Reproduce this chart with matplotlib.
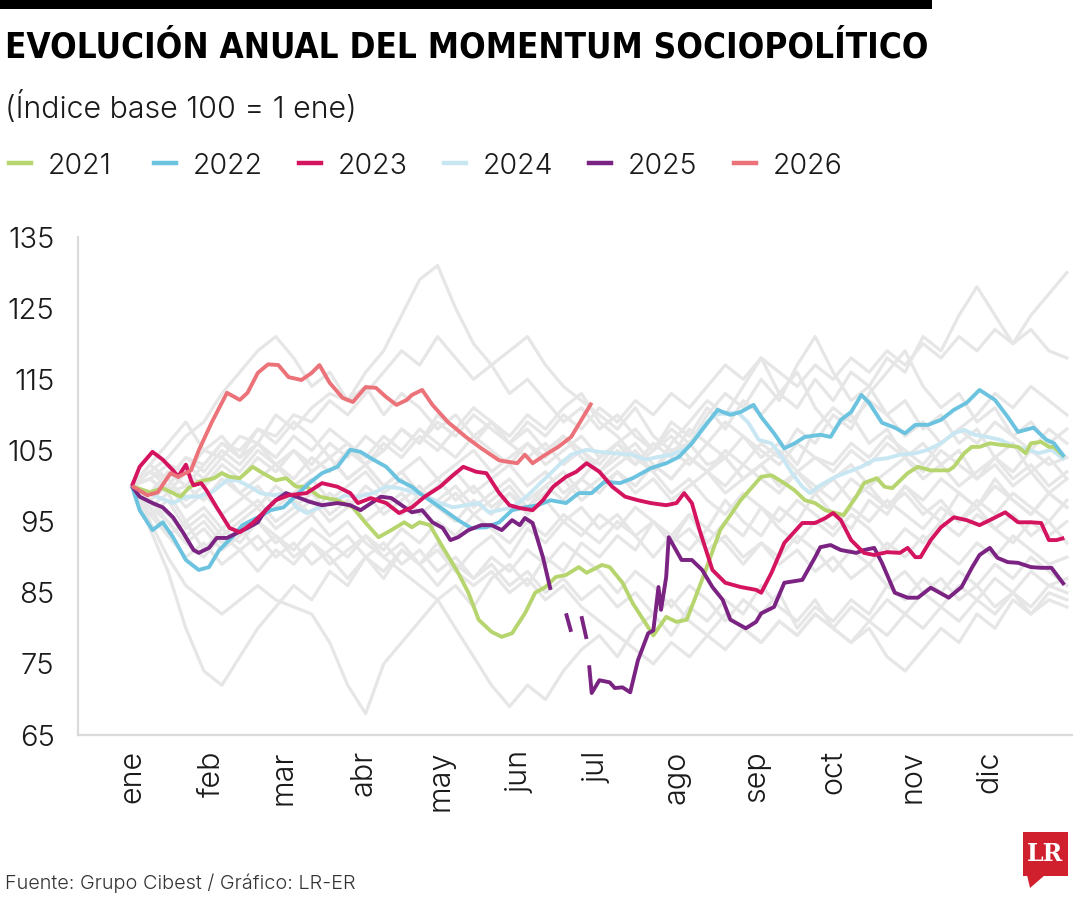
import matplotlib
matplotlib.use('Agg')
import matplotlib.pyplot as plt
from matplotlib import font_manager
from matplotlib.font_manager import FontProperties
from matplotlib.lines import Line2D
from matplotlib.patches import Rectangle, Polygon
import numpy as np


# buscar fuentes: ligera para textos, negrita condensada para titulo
def pick_font(weight_target, stretch_target):
    fams = ['Noto Sans', 'Open Sans', 'Roboto', 'Roboto Condensed', 'Liberation Sans Narrow',
            'DejaVu Sans', 'Lato', 'Inter']
    best, best_score = None, None
    for f in font_manager.fontManager.ttflist:
        if f.name not in fams or f.style != 'normal':
            continue
        st = f.stretch
        st = font_manager.stretch_dict.get(st, 500) if isinstance(st, str) else st
        w = f.weight
        w = font_manager.weight_dict.get(w, 400) if isinstance(w, str) else w
        score = abs(st - stretch_target) + abs(w - weight_target) * 0.6
        if best_score is None or score < best_score:
            best, best_score = f.fname, score
    return best


LIGHT = pick_font(300, 500)
BOLD = pick_font(700, 330)


def fp(size, path=LIGHT):
    return FontProperties(fname=path, size=size)


meses = ['ene', 'feb', 'mar', 'abr', 'may', 'jun', 'jul', 'ago', 'sep', 'oct', 'nov', 'dic']
mes_dias = [0, 31, 59, 90, 120, 151, 181, 212, 243, 273, 304, 334]
y_ticks = [65, 75, 85, 95, 105, 115, 125, 135]

# ---- años destacados (día del año, índice) ----
d_2021 = [0, 7, 12, 16, 19, 22, 26, 32, 35, 38, 42, 47, 51, 56, 60, 64, 68, 73, 80, 86,
          91, 96, 101, 106, 109, 112, 116, 121, 127, 131, 135, 140, 144, 148, 153, 157, 161, 165, 169, 174,
          177, 183, 186, 191, 195, 200, 203, 208, 212, 216, 219, 223, 229, 237, 245, 249, 254, 258, 262, 266,
          270, 274, 277, 282, 285, 290, 293, 296, 302, 306, 311, 318, 320, 324, 327, 330, 334, 338, 345, 348,
          350, 354, 357, 359, 363]
v_2021 = [100, 99.1, 99.7, 99, 98.5, 99.7, 100.6, 101.1, 101.8, 101.3, 101.1, 102.7, 101.8, 100.8, 101.1, 99.9, 99.9, 98.5, 98, 97,
          94.8, 92.8, 93.8, 94.9, 94.2, 94.9, 94.5, 91.4, 87.8, 85, 81.2, 79.5, 78.8, 79.3, 82.1, 85, 85.8, 87.2, 87.5, 88.6,
          87.8, 88.9, 88.6, 86.4, 83.5, 80.7, 79, 81.6, 80.9, 81.2, 84, 87.8, 93.8, 98, 101.3, 101.5, 100.4, 99.4, 98, 97.6,
          96.6, 96.2, 95.9, 98.5, 100.4, 101.1, 99.9, 99.7, 101.8, 102.7, 102.2, 102.2, 102.7, 104.6, 105.5, 105.5, 106, 105.8, 105.5, 104.6,
          106, 106.2, 105.5, 105.5, 104.1]

d_2022 = [0, 3, 8, 12, 16, 21, 26, 30, 34, 39, 43, 49, 54, 59, 64, 69, 74, 80, 85, 89,
          94, 99, 104, 109, 112, 120, 127, 132, 138, 143, 148, 153, 158, 163, 169, 174, 179, 184, 190, 195,
          202, 208, 213, 218, 222, 228, 233, 237, 242, 245, 250, 254, 258, 262, 268, 272, 276, 280, 284, 287,
          292, 297, 301, 305, 310, 315, 320, 325, 330, 336, 341, 345, 351, 356, 359, 363]
v_2022 = [100, 96.6, 93.8, 94.9, 92.8, 89.6, 88.2, 88.6, 91, 92.8, 94.5, 95.6, 96.6, 97, 98.7, 100.4, 101.8, 102.7, 105.1, 104.8,
          103.7, 102.7, 100.8, 99.9, 99, 97, 95.2, 94.1, 94.2, 94.9, 96.6, 97, 97.3, 98, 97.6, 99, 99, 100.6, 100.4, 101.1,
          102.5, 103.2, 104.1, 106, 107.9, 110.7, 110, 110.4, 111.4, 109.7, 107.4, 105.3, 106, 106.9, 107.2, 106.9, 109.3, 110.4, 112.8, 111.7,
          108.9, 108.2, 107.4, 108.6, 108.6, 109.3, 110.7, 111.7, 113.5, 112.1, 109.7, 107.6, 108.2, 106.5, 106, 104.1]

d_2023 = [0, 3, 8, 12, 16, 18, 21, 23, 24, 27, 29, 33, 38, 42, 47, 51, 56, 61, 68, 74,
          80, 85, 88, 93, 99, 104, 109, 114, 120, 125, 129, 134, 138, 143, 147, 151, 156, 160, 164, 169,
          173, 177, 182, 187, 192, 197, 202, 208, 212, 215, 218, 221, 226, 231, 237, 243, 245, 249, 254, 261,
          266, 270, 273, 276, 280, 285, 289, 294, 299, 302, 305, 307, 311, 315, 320, 325, 330, 334, 340, 345,
          350, 354, 357, 360, 363]
v_2023 = [100, 102.7, 104.8, 103.7, 102.2, 101.3, 103, 100.8, 100.1, 100.4, 99.4, 97, 94.1, 93.5, 94.8, 96.2, 98, 98.7, 99, 100.4,
          99.9, 99, 97.6, 98.3, 97.6, 96.2, 97, 98.5, 99.9, 101.5, 102.7, 102, 101.8, 99, 97.3, 96.9, 96.6, 98, 99.9, 101.3,
          102, 103.2, 102, 99.9, 98.5, 98, 97.6, 97.3, 97.6, 99, 97.6, 93.8, 88.2, 86.4, 85.8, 85.4, 85, 87.8, 92, 94.8,
          94.8, 95.5, 96.2, 95.2, 92.4, 90.6, 90.3, 90.7, 90.6, 91.3, 90, 90, 92.4, 94.2, 95.6, 95.2, 94.5, 95.2, 96.3, 94.9,
          94.9, 94.8, 92.4, 92.4, 92.7]

d_2024 = [0, 6, 11, 16, 21, 26, 31, 37, 41, 46, 50, 55, 60, 64, 68, 73, 78, 83, 88, 94,
          99, 104, 109, 115, 120, 125, 130, 135, 139, 143, 148, 152, 155, 159, 163, 167, 171, 177, 182, 188,
          195, 200, 205, 210, 216, 219, 222, 227, 232, 236, 240, 244, 249, 253, 257, 261, 264, 268, 274, 279,
          284, 289, 294, 299, 305, 310, 315, 320, 324, 328, 333, 338, 344, 349, 353, 358, 363]
v_2024 = [100, 99.1, 98.3, 97.6, 98.5, 98.5, 99.1, 100.8, 100.8, 99.9, 99, 98.7, 99, 97, 96.2, 97, 97.7, 98.7, 98.5, 99,
          99.9, 99.7, 99.2, 98.5, 97.6, 97, 97.3, 97.6, 96.3, 96.6, 97, 98, 99, 100.4, 101.8, 103.2, 104.4, 105.1, 104.8, 104.6,
          104.4, 103.7, 104.1, 104.4, 105.3, 106.5, 108.3, 110, 110.3, 110.3, 108.9, 106.5, 106, 104.1, 101.8, 99.9, 99, 100.1, 101.3, 102,
          102.7, 103.7, 103.9, 104.4, 104.6, 105.1, 106, 107.4, 107.9, 107.2, 106.9, 106.5, 105.5, 105.1, 104.6, 105.1, 103.7]

# 2025 tiene cortes en la serie (nan)
d_2025 = [0, 3, 8, 12, 16, 20, 24, 26, 30, 33, 37, 41, 45, 49, 52, 56, 60, 64, 69, 74,
          80, 85, 89, 94, 97, 101, 105, 109, 113, 117, 121, 124, 127, 131, 136, 140, 144, 148, 151, 153,
          156, 160, 163, 166, 169, 171, 173, 175, 177, 177.5, 178, 179, 182, 186, 188, 191, 194, 197, 201, 203,
          205, 206, 208, 209, 214, 218, 222, 226, 230, 233, 239, 243, 245, 250, 254, 261, 266, 268, 272, 276,
          282, 285, 289, 292, 297, 302, 306, 311, 318, 323, 327, 330, 334, 337, 341, 345, 350, 354, 358, 363]
v_2025 = [100, 98.5, 97.6, 97, 95.6, 93.4, 91, 90.6, 91.3, 92.7, 92.7, 93.4, 94.1, 94.9, 96.6, 98, 99, 98.5, 97.8, 97.3,
          97.6, 97.3, 96.6, 97.8, 98.5, 98.3, 97.3, 96.3, 96.6, 94.9, 94.1, 92.4, 92.8, 93.8, 94.5, 94.5, 93.8, 95.2, 94.5, 95.5,
          94.8, 90, 85.4, np.nan, 82.1, 79.5, np.nan, 81.7, 78.5, np.nan, 74.8, 70.9, 72.7, 72.4, 71.6, 71.7, 71, 75.5, 79.3, 79.7,
          85.8, 82.6, 87.2, 92.8, 89.6, 89.6, 88.2, 85.8, 84, 81.2, 80, 80.9, 82.1, 83, 86.4, 86.8, 90, 91.4, 91.7, 91,
          90.6, 91, 91.3, 89.2, 85, 84.3, 84.3, 85.7, 84.3, 85.8, 88.5, 90.3, 91.3, 89.9, 89.3, 89.2, 88.6, 88.5, 88.5, 86.1]

d_2026 = [0, 6, 10, 15, 18, 23, 26, 31, 37, 42, 45, 49, 53, 57, 61, 66, 70, 73, 77, 82,
          86, 91, 95, 99, 103, 107, 109, 113, 117, 123, 130, 136, 143, 150, 153, 156, 161, 166, 171, 175, 179]
v_2026 = [100, 98.7, 99.1, 101.8, 101.3, 102.2, 105, 108.9, 113.1, 112.1, 113.1, 115.9, 117.1, 117, 115.3, 114.9, 115.9, 117, 114.5, 112.4,
          111.8, 113.9, 113.8, 112.5, 111.4, 112.1, 112.8, 113.5, 111.4, 109, 106.9, 105.3, 103.6, 103.2, 104.4, 103.2, 104.4, 105.5, 106.9, 109.3, 111.7]

# ---- años anteriores (gris), un valor por semana ----
g01 = [100, 101, 103, 102, 105, 104, 107, 106, 110, 108, 111, 113, 112,
       116, 119, 124, 129, 131, 125, 120, 117, 119, 121, 117, 114, 112,
       110, 108, 111, 107, 105, 106, 103, 104, 101, 103, 105, 102, 104,
       103, 106, 104, 107, 105, 103, 106, 108, 106, 109, 107, 105, 108, 106]
g02 = [100, 102, 104, 107, 109, 113, 116, 119, 121, 118, 114, 116, 112,
       114, 110, 113, 111, 108, 110, 107, 109, 106, 104, 106, 103, 105,
       102, 104, 106, 103, 101, 104, 102, 100, 103, 101, 99, 102, 100,
       98, 101, 99, 97, 100, 98, 101, 99, 97, 100, 98, 96, 99, 97]
g03 = [100, 95, 90, 86, 84, 82, 84, 86, 84, 83, 82, 78, 72,
       68, 75, 78, 81, 84, 86, 83, 87, 89, 86, 90, 88, 92,
       90, 93, 91, 95, 93, 96, 92, 95, 93, 97, 94, 92, 95,
       93, 96, 94, 91, 94, 92, 95, 93, 96, 94, 92, 95, 93, 95]
g04 = [100, 94, 88, 80, 74, 72, 76, 80, 83, 86, 84, 88, 86,
       90, 87, 91, 89, 92, 88, 91, 93, 90, 94, 92, 95, 93,
       96, 94, 97, 95, 92, 96, 94, 98, 95, 93, 97, 95, 99,
       96, 94, 98, 96, 100, 97, 95, 99, 97, 101, 98, 96, 99, 97]
g05 = [100, 98, 95, 92, 94, 91, 93, 95, 92, 94, 96, 93, 95,
       92, 90, 88, 86, 84, 80, 76, 72, 69, 72, 70, 74, 77,
       79, 76, 80, 82, 79, 83, 81, 84, 82, 86, 83, 81, 84,
       80, 78, 80, 76, 74, 77, 80, 78, 82, 80, 84, 82, 85, 84]
g06 = [100, 99, 101, 98, 100, 102, 99, 101, 103, 100, 102, 104, 101,
       103, 100, 102, 104, 101, 103, 105, 102, 104, 106, 103, 105, 107,
       104, 106, 108, 105, 109, 107, 111, 108, 112, 110, 113, 111, 115,
       112, 116, 114, 118, 116, 121, 119, 124, 128, 124, 120, 122, 119, 118]
g07 = [100, 101, 99, 102, 100, 103, 101, 104, 102, 105, 103, 106, 104,
       107, 105, 108, 106, 109, 107, 110, 108, 106, 109, 107, 110, 108,
       111, 109, 112, 110, 113, 111, 114, 117, 115, 118, 116, 114, 117,
       115, 118, 116, 119, 117, 120, 118, 121, 119, 122, 120, 124, 127, 130]
g08 = [100, 98, 100, 97, 99, 96, 98, 100, 97, 99, 101, 98, 100,
       102, 99, 101, 98, 100, 102, 99, 101, 103, 100, 102, 99, 101,
       104, 106, 103, 105, 108, 106, 110, 113, 111, 115, 112, 117, 121,
       116, 112, 114, 110, 112, 108, 110, 106, 108, 104, 106, 102, 104, 101]
g09 = [100, 97, 99, 95, 97, 94, 96, 98, 95, 97, 99, 96, 98,
       95, 97, 99, 96, 98, 100, 97, 99, 101, 98, 100, 102, 99,
       101, 103, 105, 102, 106, 109, 112, 110, 114, 118, 113, 116, 111,
       108, 110, 106, 108, 104, 106, 103, 105, 101, 103, 100, 102, 99, 101]
g10 = [100, 101, 99, 100, 98, 101, 99, 97, 100, 98, 96, 99, 97,
       100, 98, 96, 99, 97, 95, 98, 96, 99, 97, 100, 98, 101,
       99, 102, 100, 103, 101, 104, 102, 105, 103, 106, 104, 108, 106,
       110, 108, 113, 116, 119, 114, 111, 113, 109, 111, 107, 109, 106, 108]
g11 = [100, 102, 100, 103, 101, 104, 102, 105, 103, 101, 104, 102, 105,
       103, 106, 104, 107, 105, 108, 106, 109, 107, 110, 108, 111, 113,
       109, 107, 104, 102, 99, 101, 98, 96, 99, 97, 95, 98, 96,
       94, 97, 95, 98, 96, 94, 97, 95, 98, 96, 99, 97, 95, 98]
g12 = [100, 97, 93, 90, 92, 89, 91, 93, 90, 92, 89, 91, 93,
       90, 92, 89, 91, 88, 90, 87, 89, 86, 88, 85, 87, 84,
       86, 83, 85, 82, 84, 81, 79, 82, 80, 78, 81, 79, 82,
       80, 83, 81, 84, 82, 85, 83, 86, 84, 87, 85, 88, 86, 87]
g13 = [100, 96, 98, 94, 96, 93, 95, 97, 94, 96, 98, 95, 97,
       99, 96, 98, 100, 97, 99, 96, 98, 100, 97, 99, 101, 98,
       100, 102, 99, 101, 98, 100, 102, 99, 101, 103, 100, 102, 99,
       101, 103, 100, 102, 104, 101, 103, 100, 102, 104, 101, 103, 100, 102]
g14 = [100, 102, 101, 104, 103, 106, 105, 108, 107, 110, 109, 112, 110,
       113, 116, 119, 117, 121, 118, 115, 117, 113, 115, 112, 109, 111,
       108, 110, 107, 105, 107, 104, 102, 104, 101, 103, 100, 102, 99,
       101, 98, 100, 97, 99, 96, 98, 95, 97, 94, 96, 93, 95, 92]
g15 = [100, 98, 96, 93, 95, 92, 94, 91, 93, 90, 92, 89, 91,
       93, 90, 92, 89, 91, 88, 86, 88, 85, 87, 84, 86, 83,
       81, 79, 77, 75, 78, 76, 79, 77, 80, 78, 81, 79, 82,
       80, 78, 81, 79, 82, 80, 83, 81, 84, 82, 85, 83, 86, 85]
g16 = [100, 103, 106, 109, 105, 107, 104, 106, 103, 105, 102, 104, 101,
       103, 100, 102, 99, 101, 98, 100, 97, 99, 96, 98, 95, 97,
       94, 96, 93, 95, 92, 94, 91, 93, 90, 92, 89, 91, 88,
       90, 87, 89, 86, 88, 85, 87, 84, 86, 83, 85, 82, 84, 83]
g17 = [100, 103, 101, 104, 102, 105, 103, 106, 104, 107, 105, 108, 106,
       104, 107, 105, 108, 106, 104, 107, 105, 103, 106, 104, 107, 105,
       103, 106, 104, 102, 105, 103, 106, 104, 107, 105, 103, 106, 104,
       102, 105, 103, 106, 104, 102, 105, 103, 101, 104, 102, 105, 103, 104]
g18 = [100, 96, 93, 95, 91, 94, 92, 95, 93, 91, 94, 92, 90,
       93, 91, 94, 92, 95, 93, 96, 94, 92, 95, 93, 96, 94,
       92, 95, 93, 90, 93, 91, 94, 92, 89, 92, 90, 93, 91,
       88, 91, 89, 92, 90, 93, 91, 89, 92, 90, 93, 91, 89, 90]
g19 = [100, 99, 102, 100, 103, 106, 104, 108, 106, 109, 107, 104, 106,
       103, 105, 108, 106, 110, 108, 111, 109, 106, 108, 105, 107, 104,
       102, 105, 103, 106, 104, 108, 106, 109, 107, 104, 106, 103, 108,
       111, 109, 112, 110, 107, 109, 106, 108, 110, 113, 111, 114, 112, 110]
g20 = [100, 97, 95, 92, 90, 93, 91, 88, 91, 89, 92, 90, 87,
       90, 88, 91, 89, 86, 89, 87, 90, 88, 91, 89, 92, 90,
       88, 85, 88, 86, 83, 86, 84, 81, 84, 82, 85, 80, 83,
       81, 84, 82, 86, 84, 87, 85, 88, 86, 89, 87, 90, 88, 86]
gris = [g01, g02, g03, g04, g05, g06, g07, g08, g09, g10,
        g11, g12, g13, g14, g15, g16, g17, g18, g19, g20]
semanas = np.arange(0, 365, 7)

series = [('2021', d_2021, v_2021, '#B7D56E'),
          ('2022', d_2022, v_2022, '#6CC3DF'),
          ('2023', d_2023, v_2023, '#D4145F'),
          ('2024', d_2024, v_2024, '#C9E7F3'),
          ('2025', d_2025, v_2025, '#7B2382'),
          ('2026', d_2026, v_2026, '#EC727A')]
orden = ['2024', '2021', '2022', '2025', '2023', '2026']

W, H = 1080, 900
fig = plt.figure(figsize=(W / 100, H / 100), dpi=100)
ax = fig.add_axes([78 / W, 1 - 735 / H, (1072 - 78) / W, (735 - 237) / H])

for g in gris:
    ax.plot(semanas, g, color='#E6E6E6', lw=2.3, solid_joinstyle='round')

for nombre in orden:
    for lab, d, v, c in series:
        if lab == nombre:
            ax.plot(d, v, color=c, lw=2.8, solid_joinstyle='round', solid_capstyle='butt')

ax.set_xlim(-21, 366)
ax.set_ylim(65, 135)
ax.set_yticks(y_ticks)
ax.set_xticks(mes_dias)
ax.set_xticklabels(meses, rotation=90)
for s in ['top', 'right']:
    ax.spines[s].set_visible(False)
for s in ['left', 'bottom']:
    ax.spines[s].set_color('#DADADA')
    ax.spines[s].set_linewidth(1.6)
ax.tick_params(axis='y', length=0, pad=17, labelcolor='#1a1a1a')
ax.tick_params(axis='x', length=0, pad=11, labelcolor='#1a1a1a')
for t in ax.get_yticklabels():
    t.set_fontproperties(fp(21))
for t in ax.get_xticklabels():
    t.set_fontproperties(fp(22))

# barra negra superior
fig.add_artist(Rectangle((0, 1 - 9 / H), 932 / W, 9 / H, transform=fig.transFigure,
                         color='black', lw=0))

titulo = fig.text(5 / W, 1 - 58 / H, 'EVOLUCIÓN ANUAL DEL MOMENTUM SOCIOPOLÍTICO',
                  fontproperties=fp(30, BOLD), va='baseline', ha='left', color='black')
sub = fig.text(5 / W, 1 - 118 / H, '(Índice base 100 = 1 ene)', fontproperties=fp(22),
               va='baseline', ha='left', color='#1a1a1a')

# leyenda manual
for i, (lab, d, v, c) in enumerate(series):
    x0 = 9 + 145 * i
    fig.add_artist(Line2D([x0 / W, (x0 + 22) / W], [1 - 163 / H, 1 - 163 / H],
                          transform=fig.transFigure, color=c, lw=3.2))
    fig.text((x0 + 39) / W, 1 - 174 / H, lab, fontproperties=fp(20.5), va='baseline',
             ha='left', color='#1a1a1a')

pie = fig.text(5 / W, 1 - 889 / H, 'Fuente: Grupo Cibest / Gráfico: LR-ER', fontproperties=fp(18),
               va='baseline', ha='left', color='#333333')

# logo LR
fig.add_artist(Rectangle((1023 / W, 1 - 876 / H), 45 / W, 44 / H, transform=fig.transFigure,
                         color='#D0202E', lw=0))
fig.add_artist(Polygon([[1027 / W, 1 - 875 / H], [1045 / W, 1 - 875 / H], [1030 / W, 1 - 888 / H]],
                       closed=True, transform=fig.transFigure, color='#D0202E', lw=0))
fig.text(1045.5 / W, 1 - 854 / H, 'LR', fontsize=17, fontweight='bold', color='white',
         ha='center', va='center', family='DejaVu Serif')

# ajustar anchos de titulo, subtitulo y fuente
fig.canvas.draw()
r = fig.canvas.get_renderer()
bb = titulo.get_window_extent(r)
titulo.set_fontproperties(fp(30 * 923 / bb.width, BOLD))
bb = sub.get_window_extent(r)
sub.set_fontproperties(fp(min(26, 22 * 352 / bb.width)))
bb = pie.get_window_extent(r)
pie.set_fontproperties(fp(min(21, 18 * 352 / bb.width)))

fig.savefig('out.png', dpi=100)
